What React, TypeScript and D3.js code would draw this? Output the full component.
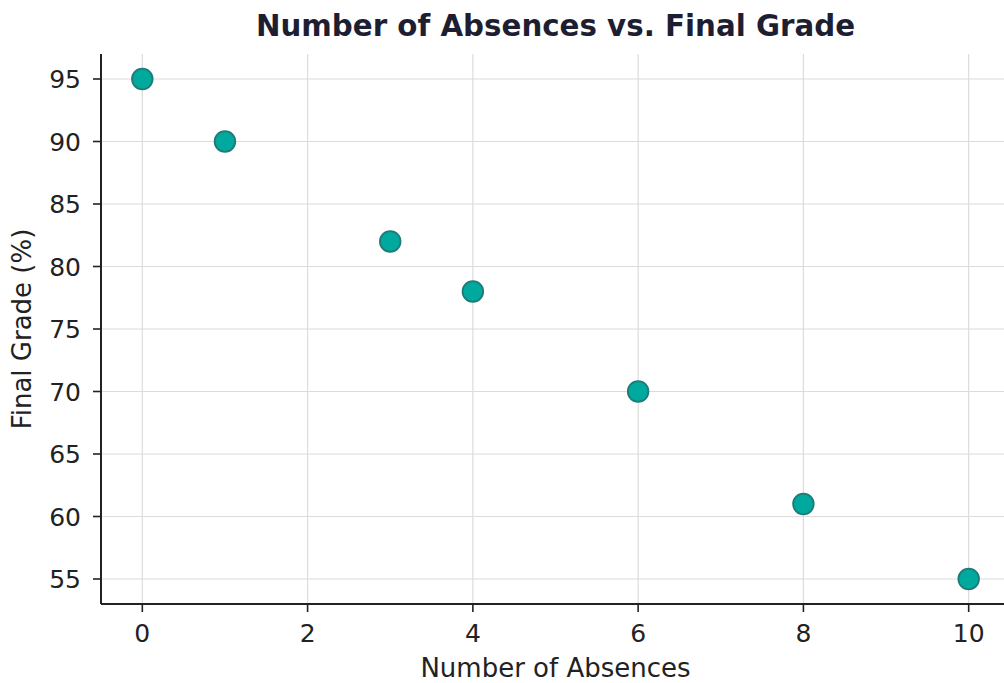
import React from "react";
import * as d3 from "d3";

const absences = [0, 1, 3, 4, 6, 8, 10];
const grades = [95, 90, 82, 78, 70, 61, 55];
const xTicks = [0, 2, 4, 6, 8, 10];
const yTicks = [55, 60, 65, 70, 75, 80, 85, 90, 95];

const W = 1004;
const H = 683;
const FONT = "'DejaVu Sans', sans-serif";

export default function App() {
  const left = 101, right = 1010, top = 54, bottom = 604;
  const x = d3.scaleLinear().domain([-0.5, 10.5]).range([left, right]);
  const y = d3.scaleLinear().domain([53, 97]).range([bottom, top]);
  const cx = (left + right) / 2;
  return (
    <svg width={W} height={H} style={{ position: "absolute", left: 0, top: 0, background: "#fff" }}>
      <rect width={W} height={H} fill="#fff" />
      <g>
        {xTicks.map((t) => (
          <line key={"gx" + t} x1={x(t)} x2={x(t)} y1={top} y2={bottom} stroke="#dcdcdc" strokeWidth={1.2} />
        ))}
        {yTicks.map((t) => (
          <line key={"gy" + t} x1={left} x2={right} y1={y(t)} y2={y(t)} stroke="#dcdcdc" strokeWidth={1.2} />
        ))}
      </g>
      {absences.map((a, i) => (
        <circle key={i} cx={x(a)} cy={y(grades[i])} r={10.3} fill="#00a99d" stroke="#1f7a78" strokeWidth={1.8} />
      ))}
      <line x1={left} x2={left} y1={top} y2={bottom} stroke="#222" strokeWidth={2} />
      <line x1={left} x2={right} y1={bottom} y2={bottom} stroke="#222" strokeWidth={2} />
      {xTicks.map((t) => (
        <g key={"xt" + t}>
          <line x1={x(t)} x2={x(t)} y1={bottom} y2={bottom + 8} stroke="#222" strokeWidth={1.6} />
          <text x={x(t)} y={642} textAnchor="middle" fontFamily={FONT} fontSize={25} fill="#222">{t}</text>
        </g>
      ))}
      {yTicks.map((t) => (
        <g key={"yt" + t}>
          <line x1={left - 8} x2={left} y1={y(t)} y2={y(t)} stroke="#222" strokeWidth={1.6} />
          <text x={81} y={y(t)} dy="0.36em" textAnchor="end" fontFamily={FONT} fontSize={25} fill="#222">{t}</text>
        </g>
      ))}
      <text x={cx} y={36} textAnchor="middle" fontFamily={FONT} fontWeight="bold" fontSize={29.3} fill="#1e1e32">
        Number of Absences vs. Final Grade
      </text>
      <text x={cx} y={677} textAnchor="middle" fontFamily={FONT} fontSize={26} fill="#222">Number of Absences</text>
      <text transform={`translate(31,${(top + bottom) / 2}) rotate(-90)`} textAnchor="middle" fontFamily={FONT} fontSize={26} fill="#222">
        Final Grade (%)
      </text>
    </svg>
  );
}
